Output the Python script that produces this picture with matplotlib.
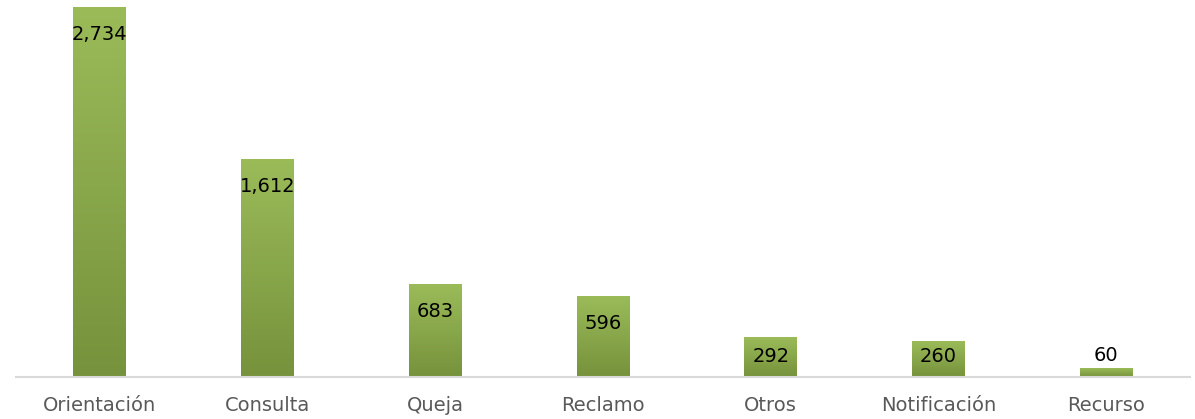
import matplotlib
matplotlib.use("Agg")
import matplotlib.pyplot as plt
import numpy as np
from matplotlib.colors import LinearSegmentedColormap

categories = ["Orientación", "Consulta", "Queja", "Reclamo", "Otros", "Notificación", "Recurso"]
values = [2734, 1612, 683, 596, 292, 260, 60]
value_labels = ["2,734", "1,612", "683", "596", "292", "260", "60"]

plt.rcParams['font.family'] = ['DejaVu Sans']

fig = plt.figure(figsize=(11.95, 4.19), dpi=100)
ax_h_px = 377
ymax = 2793
ax = fig.add_axes([16/1195, 42/419, (1190-16)/1195, ax_h_px/419])

x = np.arange(len(categories))
bars = ax.bar(x, values, width=0.316, color='none', edgecolor='none', zorder=2)

cmap = LinearSegmentedColormap.from_list("g", ["#76923C", "#9BBB59"])
grad = np.linspace(0, 1, 256).reshape(-1, 1)
for b in bars:
    bx, by = b.get_x(), b.get_y()
    w, h = b.get_width(), b.get_height()
    ax.imshow(grad, extent=[bx, bx + w, by, by + h], origin='lower',
              cmap=cmap, aspect='auto', zorder=2, interpolation='bicubic')

ax.set_xlim(-0.5, len(categories) - 0.5)
ax.set_ylim(0, ymax)

k = ymax / ax_h_px  # data units per pixel
for b, lab, v in zip(bars, value_labels, values):
    cx = b.get_x() + b.get_width() / 2
    top = b.get_height()
    if v > 150:
        yc = max(top - 27 * k, 21 * k)
        ax.text(cx, yc, lab, ha='center', va='center', fontsize=14,
                color='black', zorder=3)
    else:
        ax.annotate(lab, (cx, top), xytext=(0, 3), textcoords='offset points',
                    ha='center', va='bottom', fontsize=14, color='black', zorder=3)

ax.set_xticks(x)
ax.set_xticklabels(categories, fontsize=14, color='#595959')
ax.tick_params(axis='x', length=0, pad=14)
ax.set_yticks([])
for s in ['top', 'left', 'right']:
    ax.spines[s].set_visible(False)
ax.spines['bottom'].set_color('#D9D9D9')
ax.spines['bottom'].set_linewidth(1.5)

fig.savefig("out.png", dpi=100)
